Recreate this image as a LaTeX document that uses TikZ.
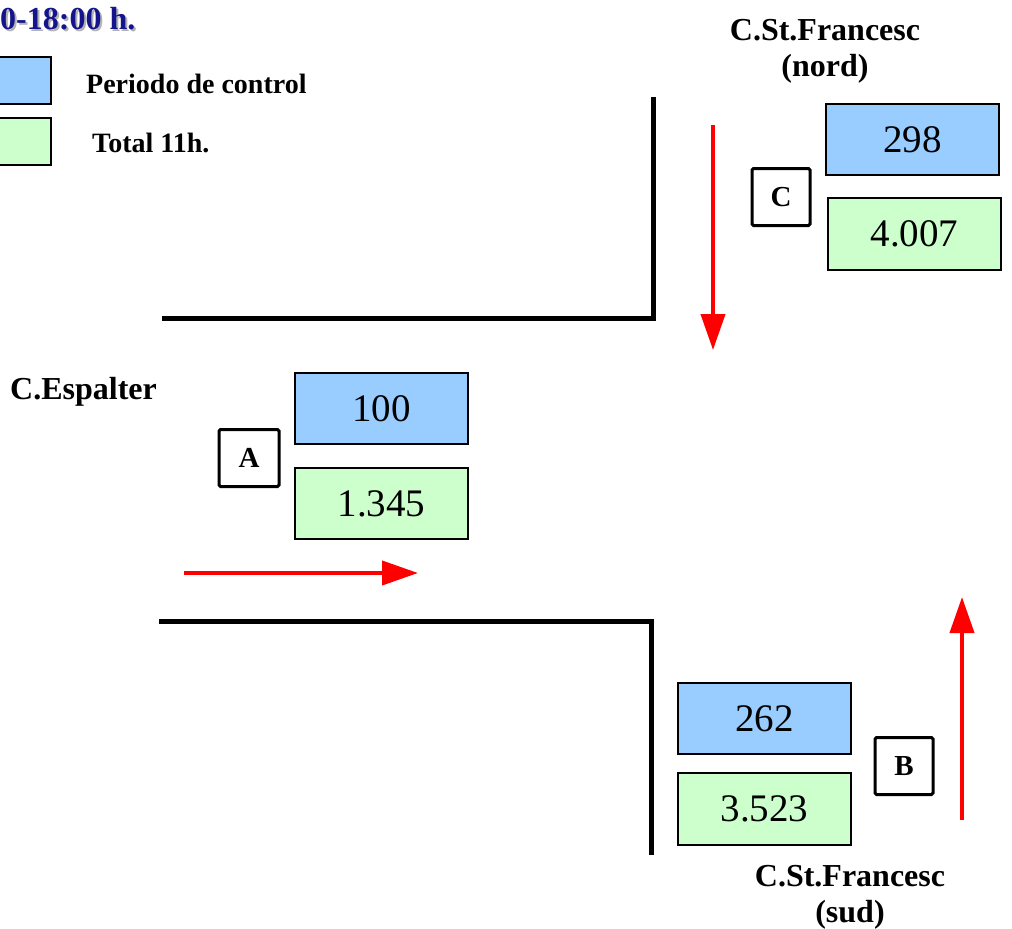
\documentclass[tikz,border=0pt]{standalone}
\usepackage{fontspec}
\setmainfont{Liberation Serif}
\usetikzlibrary{arrows.meta}
\definecolor{boxblue}{HTML}{99CCFF}
\definecolor{boxgreen}{HTML}{CCFFCC}
\definecolor{titleblue}{RGB}{20,20,140}
\definecolor{flowred}{RGB}{255,0,0}
\begin{document}
\begin{tikzpicture}[x=1pt,y=-1pt,
  wall/.style={line width=5pt},
  flow/.style={draw=flowred, line width=4pt, -{Triangle[length=36pt,width=24pt]}},
  valbox/.style={draw, line width=1.5pt, inner sep=0pt, minimum width=173pt, minimum height=71pt, font=\fontsize{39}{44}\selectfont},
  letterbox/.style={draw, line width=3pt, rounded corners=1.5pt, inner sep=0pt, minimum width=58pt, minimum height=57pt, font=\fontsize{29}{32}\selectfont\bfseries},
  legbox/.style={draw, line width=1.5pt, inner sep=0pt, minimum width=61pt, minimum height=47pt},
  street/.style={font=\fontsize{32}{36}\selectfont\bfseries, inner sep=0pt, anchor=base},
  legtext/.style={font=\fontsize{28}{32}\selectfont\bfseries, inner sep=0pt, anchor=base west}]
\useasboundingbox (0,0) rectangle (1012,929);
\clip (0,0) rectangle (1012,929);
% title
\node[font=\fontsize{32}{36}\selectfont\bfseries, text=gray!60, inner sep=0pt, anchor=base west] (titleshadow) at (2,31) {0-18:00 h.};
\node[font=\fontsize{32}{36}\selectfont\bfseries, text=titleblue, inner sep=0pt, anchor=base west] (title) at (0,29) {0-18:00 h.};
% legend
\node[legbox, fill=boxblue] (legP) at (20.5,80.5) {};
\node[legbox, fill=boxgreen] (legT) at (20.5,141.5) {};
\node[legtext] (legPtext) at (86,93) {Periodo de control};
\node[legtext] (legTtext) at (92,152) {Total 11h.};
% walls
\coordinate (tw1) at (653,97);
\coordinate (tw2) at (653,318);
\coordinate (tw3) at (162,318);
\coordinate (bw1) at (159,621);
\coordinate (bw2) at (651,621);
\coordinate (bw3) at (651,855);
\draw[wall] (tw1) -- (tw2) -- (tw3);
\draw[wall] (bw1) -- (bw2) -- (bw3);
% flows
\coordinate (fc1) at (713,125);
\coordinate (fc2) at (713,350);
\coordinate (fa1) at (184,573);
\coordinate (fa2) at (418,573);
\coordinate (fb1) at (962,820);
\coordinate (fb2) at (962,597);
\draw[flow] (fc1) -- (fc2);
\draw[flow] (fa1) -- (fa2);
\draw[flow] (fb1) -- (fb2);
% boxes C
\node[valbox, fill=boxblue] (Cp) at (912.5,139.5) {298};
\node[valbox, fill=boxgreen, minimum height=72pt] (Ct) at (914.5,234) {4.007};
\node[letterbox] (Cl) at (781,197) {C};
% boxes A
\node[valbox, fill=boxblue] (Ap) at (381.5,408.5) {100};
\node[valbox, fill=boxgreen] (At) at (381.5,503.5) {1.345};
\node[letterbox, minimum width=60pt] (Al) at (249,458) {A};
% boxes B
\node[valbox, fill=boxblue] (Bp) at (764.5,718.5) {262};
\node[valbox, fill=boxgreen, minimum height=72pt] (Bt) at (764.5,809) {3.523};
\node[letterbox] (Bl) at (904,766) {B};
% street names
\node[street] (nord1) at (825,40) {C.St.Francesc};
\node[street] (nord2) at (825,76) {(nord)};
\node[street, anchor=base west] (esp) at (10,399) {C.Espalter};
\node[street] (sud1) at (850,886) {C.St.Francesc};
\node[street] (sud2) at (850,922) {(sud)};
\end{tikzpicture}
\end{document}
